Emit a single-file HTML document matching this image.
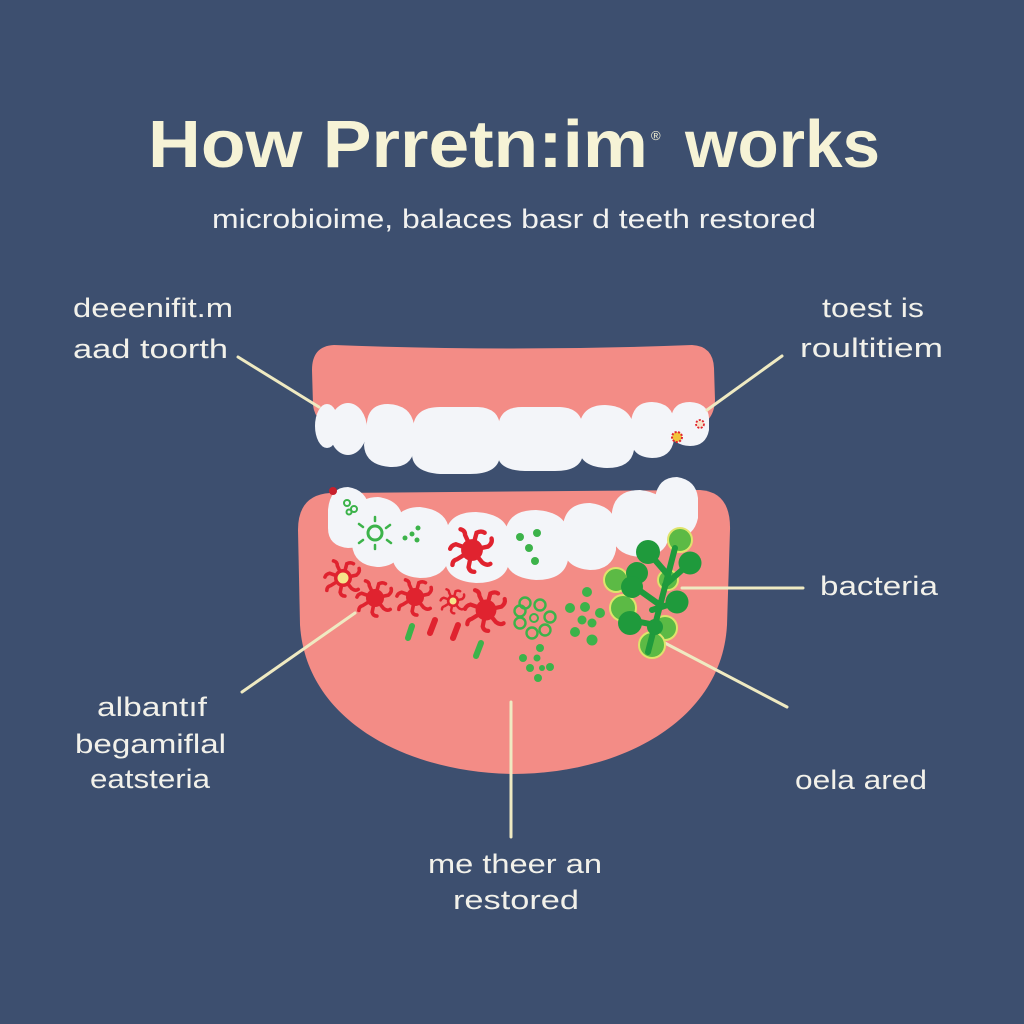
<!DOCTYPE html>
<html>
<head>
<meta charset="utf-8">
<style>
  html, body { margin:0; padding:0; background:#3d4f6f; }
  svg { display:block; }
  .lbl { font-family: "Liberation Sans", "DejaVu Sans", sans-serif; font-size:27px; fill:#f2f1ea; }
</style>
</head>
<body>
<svg width="1024" height="1024" viewBox="0 0 1024 1024" xmlns="http://www.w3.org/2000/svg">
  <defs>
    <g id="splat">
      <g stroke="#e0232f" stroke-width="3.8" stroke-linecap="round" fill="none">
        <path d="M0 0 L14 -3 Q18 -6 17 -10"/>
        <path d="M0 0 L9 11 Q13 14 16 12"/>
        <path d="M0 0 L-3 15 Q-2 19 2 19"/>
        <path d="M0 0 L-13 8 Q-17 9 -17 13"/>
        <path d="M0 0 L-14 -5 Q-18 -4 -19 -1"/>
        <path d="M0 0 L-6 -13 Q-6 -17 -10 -18"/>
        <path d="M0 0 L4 -15 Q8 -17 11 -15"/>
      </g>
      <circle r="9.5" fill="#e0232f"/>
    </g>
    <g id="ring">
      <circle r="5.5" fill="none" stroke="#3cb34a" stroke-width="2.4"/>
    </g>
  </defs>

  <rect width="1024" height="1024" fill="#3d4f6f"/>

  <!-- Title -->
  <text x="148" y="167" font-family="Liberation Sans, DejaVu Sans, sans-serif" font-weight="bold" font-size="67" fill="#f6f3d6" textLength="500" lengthAdjust="spacingAndGlyphs">How Prretn:im</text>
  <text x="651" y="140" font-family="Liberation Sans, sans-serif" font-size="13" fill="#f6f3d6">®</text>
  <text x="685" y="167" font-family="Liberation Sans, DejaVu Sans, sans-serif" font-weight="bold" font-size="67" fill="#f6f3d6" textLength="195" lengthAdjust="spacingAndGlyphs">works</text>

  <!-- Subtitle -->
  <text x="212" y="228" font-family="Liberation Sans, DejaVu Sans, sans-serif" font-size="27" fill="#f2f2f0" textLength="604" lengthAdjust="spacingAndGlyphs">microbioime, balaces basr d teeth restored</text>

  <!-- Labels -->
  <text class="lbl" x="73" y="317" textLength="160" lengthAdjust="spacingAndGlyphs">deeenifit.m</text>
  <text class="lbl" x="73" y="358" textLength="155" lengthAdjust="spacingAndGlyphs">aad toorth</text>

  <text class="lbl" x="822" y="317" textLength="102" lengthAdjust="spacingAndGlyphs">toest is</text>
  <text class="lbl" x="800" y="357" textLength="143" lengthAdjust="spacingAndGlyphs">roultitiem</text>

  <text class="lbl" x="820" y="595" textLength="118" lengthAdjust="spacingAndGlyphs">bacteria</text>
  <text class="lbl" x="795" y="789" textLength="132" lengthAdjust="spacingAndGlyphs">oela ared</text>

  <text class="lbl" x="97" y="716" textLength="110" lengthAdjust="spacingAndGlyphs">albantıf</text>
  <text class="lbl" x="75" y="753" textLength="151" lengthAdjust="spacingAndGlyphs">begamiflal</text>
  <text class="lbl" x="90" y="788" textLength="120" lengthAdjust="spacingAndGlyphs">eatsteria</text>

  <text class="lbl" x="428" y="873" textLength="174" lengthAdjust="spacingAndGlyphs">me theer an</text>
  <text class="lbl" x="453" y="909" textLength="126" lengthAdjust="spacingAndGlyphs">restored</text>

  <!-- Upper gum -->
  <path d="M334 345 Q312 346 312 370 L313 405 Q315 425 340 428 L690 428 Q714 425 715 400 L714 368 Q713 346 692 345 Q512 352 334 345 Z" fill="#f38c86"/>

  <!-- Upper teeth -->
  <g fill="#f3f5f9">
    <ellipse cx="327" cy="426" rx="12" ry="22"/>
    <ellipse cx="348" cy="429" rx="19" ry="26"/>
    <path d="M367 422 Q369 404 388 404 Q411 405 414 425 L414 450 Q411 468 390 467 Q365 465 364 445 Z"/>
    <path d="M413 427 Q415 407 440 407 L478 407 Q500 408 500 428 L500 456 Q498 474 470 474 L440 474 Q413 472 412 455 Z"/>
    <path d="M498 428 Q499 407 522 407 L560 407 Q583 408 583 430 L583 454 Q581 471 555 471 L525 471 Q498 470 498 455 Z"/>
    <path d="M579 428 Q581 405 605 405 Q631 406 634 428 L634 450 Q631 468 607 468 Q581 467 579 450 Z"/>
    <path d="M631 422 Q633 402 652 402 Q673 403 674 422 L674 440 Q671 458 652 458 Q632 457 631 440 Z"/>
    <path d="M671 418 Q673 402 690 402 Q708 403 709 418 L709 430 Q706 446 690 446 Q672 445 671 432 Z"/>
  </g>
  <!-- tiny starbursts upper -->
  <g>
    <circle cx="677" cy="437" r="5" fill="#f2c43a" stroke="#e0232f" stroke-width="2" stroke-dasharray="2 1.5"/>
    <circle cx="700" cy="424" r="4" fill="#f6e2c9" stroke="#e0232f" stroke-width="1.8" stroke-dasharray="2 1.5"/>
  </g>

  <!-- Lower gum -->
  <path d="M330 493 Q298 495 298 530 L300 625 C306 720 405 772 512 774 C622 774 722 720 727 625 L730 530 Q731 492 700 490 Z" fill="#f38c86"/>

  <!-- Lower teeth -->
  <g fill="#f3f5f9">
    <path d="M328 510 Q330 487 348 487 Q368 490 370 512 L370 530 Q366 548 348 548 Q328 546 328 528 Z"/>
    <path d="M352 520 Q355 497 378 497 Q401 500 403 520 L403 548 Q398 567 377 567 Q354 565 352 545 Z"/>
    <path d="M392 530 Q395 507 420 507 Q447 510 449 530 L449 558 Q445 578 420 578 Q394 576 392 556 Z"/>
    <path d="M445 535 Q448 512 476 512 Q507 514 509 535 L509 563 Q505 583 476 583 Q447 581 445 561 Z"/>
    <path d="M505 533 Q508 510 536 510 Q566 512 568 533 L568 560 Q564 580 536 580 Q507 578 505 558 Z"/>
    <path d="M563 525 Q566 503 590 503 Q614 506 616 525 L616 550 Q612 570 590 570 Q565 568 563 548 Z"/>
    <path d="M612 512 Q615 490 640 490 Q666 493 669 512 L669 537 Q665 557 640 557 Q614 555 612 535 Z"/>
    <path d="M655 498 Q658 477 677 477 Q696 480 698 498 L698 518 Q694 537 677 537 Q657 535 655 518 Z"/>
  </g>

  <!-- Connector lines -->
  <g stroke="#efeac2" stroke-width="3" stroke-linecap="round" fill="none">
    <line x1="238" y1="357" x2="319" y2="407"/>
    <line x1="782" y1="356" x2="707" y2="410"/>
    <line x1="242" y1="692" x2="355" y2="613"/>
    <line x1="682" y1="588" x2="803" y2="588"/>
    <line x1="663" y1="642" x2="787" y2="707"/>
    <line x1="511" y1="702" x2="511" y2="837"/>
  </g>

  <!-- Red bacteria -->
  <use href="#splat" transform="translate(472,550) scale(1.15)"/>
  <use href="#splat" transform="translate(343,578) scale(0.95)"/>
  <circle cx="343" cy="578" r="5.5" fill="#f6e48a"/>
  <use href="#splat" transform="translate(375,598) scale(0.95)"/>
  <use href="#splat" transform="translate(415,597) scale(0.95)"/>
  <use href="#splat" transform="translate(453,601) scale(0.65)"/>
  <circle cx="453" cy="601" r="3.5" fill="#f6e48a"/>
  <use href="#splat" transform="translate(486,610) scale(1.1)"/>
  <g fill="#c8202c">
    <circle cx="333" cy="491" r="4"/>
  </g>

  <!-- rods -->
  <g stroke-width="6" stroke-linecap="round">
    <line x1="412" y1="626" x2="408" y2="638" stroke="#3cb34a"/>
    <line x1="435" y1="620" x2="430" y2="633" stroke="#e0232f"/>
    <line x1="458" y1="625" x2="453" y2="638" stroke="#e0232f"/>
    <line x1="481" y1="643" x2="476" y2="656" stroke="#3cb34a"/>
  </g>

  <!-- Green on teeth -->
  <g>
    <circle cx="375" cy="533" r="7" fill="none" stroke="#3cb34a" stroke-width="3"/>
    <g stroke="#3cb34a" stroke-width="2.5" stroke-linecap="round">
      <line x1="375" y1="521" x2="375" y2="517"/>
      <line x1="386" y1="528" x2="390" y2="525"/>
      <line x1="387" y1="540" x2="391" y2="543"/>
      <line x1="375" y1="545" x2="375" y2="549"/>
      <line x1="363" y1="540" x2="359" y2="543"/>
      <line x1="363" y1="527" x2="359" y2="524"/>
    </g>
    <circle cx="347" cy="503" r="3" fill="none" stroke="#3cb34a" stroke-width="2"/>
    <circle cx="354" cy="509" r="3" fill="none" stroke="#3cb34a" stroke-width="2"/>
    <circle cx="349" cy="512" r="2.5" fill="none" stroke="#3cb34a" stroke-width="2"/>
    <g fill="#3cb34a">
      <circle cx="405" cy="538" r="2.5"/>
      <circle cx="412" cy="534" r="2.5"/>
      <circle cx="418" cy="528" r="2.5"/>
      <circle cx="417" cy="540" r="2.5"/>
      <circle cx="520" cy="537" r="4"/>
      <circle cx="537" cy="533" r="4"/>
      <circle cx="529" cy="548" r="4"/>
      <circle cx="535" cy="561" r="4"/>
    </g>
  </g>

  <!-- Green flower of rings -->
  <g>
    <use href="#ring" x="525" y="603"/>
    <use href="#ring" x="540" y="605"/>
    <use href="#ring" x="550" y="617"/>
    <use href="#ring" x="545" y="630"/>
    <use href="#ring" x="532" y="633"/>
    <use href="#ring" x="520" y="623"/>
    <use href="#ring" x="520" y="611"/>
    <circle cx="534" cy="618" r="4" fill="none" stroke="#3cb34a" stroke-width="2"/>
  </g>
  <!-- Green dot clusters -->
  <g fill="#3cb34a">
    <circle cx="587" cy="592" r="5"/>
    <circle cx="570" cy="608" r="5"/>
    <circle cx="585" cy="607" r="5"/>
    <circle cx="600" cy="613" r="5"/>
    <circle cx="582" cy="620" r="4.5"/>
    <circle cx="592" cy="623" r="4.5"/>
    <circle cx="575" cy="632" r="5"/>
    <circle cx="592" cy="640" r="5.5"/>
    <circle cx="540" cy="648" r="4"/>
    <circle cx="523" cy="658" r="4"/>
    <circle cx="537" cy="658" r="3.5"/>
    <circle cx="550" cy="667" r="4"/>
    <circle cx="530" cy="668" r="4"/>
    <circle cx="542" cy="668" r="3"/>
    <circle cx="538" cy="678" r="4"/>
  </g>

  <!-- Big green grape cluster -->
  <g>
    <g stroke="#dfe46c" stroke-width="2">
      <circle cx="680" cy="540" r="12" fill="#5cba45"/>
      <circle cx="616" cy="580" r="12" fill="#5cba45"/>
      <circle cx="668" cy="580" r="10" fill="#5cba45"/>
      <circle cx="623" cy="608" r="13" fill="#5cba45"/>
      <circle cx="665" cy="628" r="12" fill="#5cba45"/>
      <circle cx="652" cy="645" r="13" fill="#5cba45"/>
    </g>
    <g stroke="#1f9a3c" stroke-width="6" stroke-linecap="round" fill="none">
      <path d="M648 652 L675 548"/>
      <path d="M660 605 L632 585"/>
      <path d="M665 585 L690 563"/>
      <path d="M655 625 L630 620"/>
      <path d="M668 575 L648 552"/>
      <path d="M652 610 L677 602"/>
    </g>
    <g fill="#1f9a3c">
      <circle cx="648" cy="552" r="12"/>
      <circle cx="690" cy="563" r="11.5"/>
      <circle cx="637" cy="573" r="11"/>
      <circle cx="632" cy="587" r="11"/>
      <circle cx="677" cy="602" r="11.5"/>
      <circle cx="630" cy="623" r="12"/>
      <circle cx="655" cy="627" r="8"/>
    </g>
  </g>
</svg>
</body>
</html>
